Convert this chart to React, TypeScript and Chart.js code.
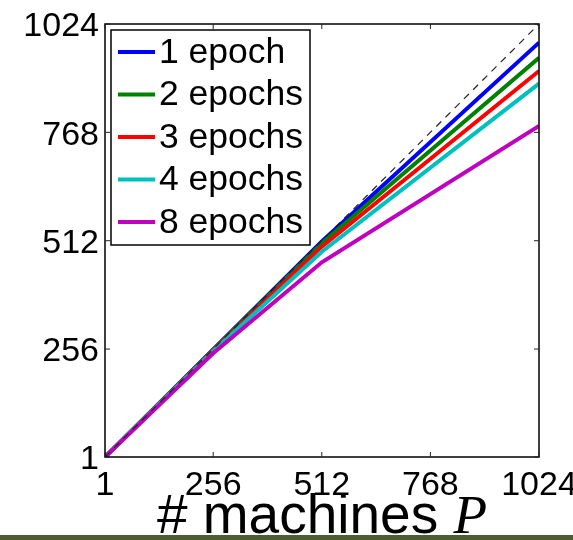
import React, { useEffect, useRef } from "react";
import { Chart, registerables } from "chart.js";

Chart.register(...registerables);

// ---- data ----
const machines = [1, 256, 512, 1024];
const epoch1 = [1, 255, 510, 980];
const epoch2 = [1, 254, 506, 944];
const epoch3 = [1, 253, 498, 913];
const epoch4 = [1, 251, 486, 883];
const epoch8 = [1, 246, 461, 783];
const idealX = [1, 1024];
const idealY = [1, 1024];
const seriesLabels = ["1 epoch", "2 epochs", "3 epochs", "4 epochs", "8 epochs"];
const seriesColors = ["#0000ff", "#008000", "#ff0000", "#00bfbf", "#bf00bf"];
const tickValues = [1, 256, 512, 768, 1024];
const xTitleText = "# machines ";
const xTitleVar = "P";

const SANS = "'Liberation Sans', Arial, Helvetica, sans-serif";
const SERIF = "'Liberation Serif', 'Times New Roman', serif";

const toPoints = (xs: number[], ys: number[]) => xs.map((x, i) => ({ x, y: ys[i] }));

const framePlugin = {
  id: "frame",
  afterDraw(chart: any) {
    const { ctx, chartArea: a, scales } = chart;
    const xs = scales.x;
    const ys = scales.y;
    ctx.save();
    // axes box
    ctx.strokeStyle = "#000";
    ctx.lineWidth = 1.5;
    ctx.strokeRect(a.left, a.top, a.right - a.left, a.bottom - a.top);
    // inward ticks on all sides
    ctx.lineWidth = 1;
    ctx.strokeStyle = "#222";
    const tl = 5;
    tickValues.forEach((v) => {
      const px = xs.getPixelForValue(v);
      const py = ys.getPixelForValue(v);
      ctx.beginPath();
      ctx.moveTo(px, a.bottom);
      ctx.lineTo(px, a.bottom - tl);
      ctx.moveTo(px, a.top);
      ctx.lineTo(px, a.top + tl);
      ctx.moveTo(a.left, py);
      ctx.lineTo(a.left + tl, py);
      ctx.moveTo(a.right, py);
      ctx.lineTo(a.right - tl, py);
      ctx.stroke();
    });

    // legend
    const lx = a.left + 6;
    const ly = a.top + 6;
    const lw = 199;
    const lh = 215;
    ctx.fillStyle = "#fff";
    ctx.fillRect(lx, ly, lw, lh);
    ctx.strokeStyle = "#000";
    ctx.lineWidth = 1.5;
    ctx.strokeRect(lx, ly, lw, lh);
    const items = chart.data.datasets.filter((d: any) => d.label);
    ctx.font = `35.5px ${SANS}`;
    ctx.textBaseline = "middle";
    ctx.textAlign = "left";
    items.forEach((d: any, i: number) => {
      const cy = ly + 22 + i * 42.5;
      ctx.strokeStyle = d.borderColor;
      ctx.lineWidth = 4;
      ctx.beginPath();
      ctx.moveTo(lx + 7, cy);
      ctx.lineTo(lx + 44, cy);
      ctx.stroke();
      ctx.fillStyle = "#000";
      ctx.fillText(d.label, lx + 48, cy + 1);
    });

    // x title: "# machines P"
    const fs = 55;
    ctx.font = `${fs}px ${SANS}`;
    const w1 = ctx.measureText(xTitleText).width;
    ctx.font = `italic ${fs}px ${SERIF}`;
    const w2 = ctx.measureText(xTitleVar).width;
    const cx = (a.left + a.right) / 2;
    const sx = cx - (w1 + w2) / 2;
    const base = 533;
    ctx.textBaseline = "alphabetic";
    ctx.fillStyle = "#000";
    ctx.font = `${fs}px ${SANS}`;
    ctx.fillText(xTitleText, sx, base);
    ctx.font = `italic ${fs}px ${SERIF}`;
    ctx.fillText(xTitleVar, sx + w1, base);

    // bottom band
    ctx.fillStyle = "#4c5d31";
    ctx.fillRect(0, 535, chart.width, chart.height - 535);
    ctx.restore();
  },
};

export default function App() {
  const ref = useRef<HTMLCanvasElement>(null);

  useEffect(() => {
    const series = [epoch1, epoch2, epoch3, epoch4, epoch8];
    const datasets: any[] = series.map((s, i) => ({
      label: seriesLabels[i],
      data: toPoints(machines, s),
      borderColor: seriesColors[i],
      backgroundColor: seriesColors[i],
      borderWidth: 4,
      pointRadius: 0,
      fill: false,
      tension: 0,
      order: 5 - i,
    }));
    datasets.push({
      label: "",
      data: toPoints(idealX, idealY),
      borderColor: "#222",
      borderWidth: 1.2,
      borderDash: [7, 6],
      pointRadius: 0,
      fill: false,
      order: 0,
    });

    const tickFont = { family: SANS, size: 34 };
    const chart = new Chart(ref.current!, {
      type: "line",
      data: { datasets },
      options: {
        animation: false,
        responsive: false,
        devicePixelRatio: 1,
        layout: { padding: { top: 24, right: 34, left: 0, bottom: 0 } },
        plugins: { legend: { display: false }, tooltip: { enabled: false } },
        scales: {
          x: {
            type: "linear",
            min: 1,
            max: 1024,
            afterBuildTicks: (s: any) => {
              s.ticks = tickValues.map((v) => ({ value: v }));
            },
            afterFit: (s: any) => {
              s.height = 83;
              s.paddingLeft = 0;
              s.paddingRight = 0;
            },
            ticks: {
              font: tickFont,
              color: "#000",
              padding: 8,
              maxRotation: 0,
              autoSkip: false,
              callback: (v: any) => String(v),
            },
            grid: { display: false, drawTicks: false },
            border: { display: false },
          },
          y: {
            type: "linear",
            min: 1,
            max: 1024,
            afterBuildTicks: (s: any) => {
              s.ticks = tickValues.map((v) => ({ value: v }));
            },
            afterFit: (s: any) => {
              s.width = 105;
              s.paddingTop = 0;
              s.paddingBottom = 0;
            },
            ticks: {
              font: tickFont,
              color: "#000",
              padding: 6,
              labelOffset: 3,
              autoSkip: false,
              callback: (v: any) => String(v),
            },
            grid: { display: false, drawTicks: false },
            border: { display: false },
          },
        },
      },
      plugins: [framePlugin],
    } as any);
    return () => chart.destroy();
  }, []);

  return (
    <div style={{ position: "absolute", left: 0, top: 0, width: 573, height: 540, background: "#fff" }}>
      <canvas ref={ref} width={573} height={540} style={{ display: "block", width: 573, height: 540 }} />
    </div>
  );
}
